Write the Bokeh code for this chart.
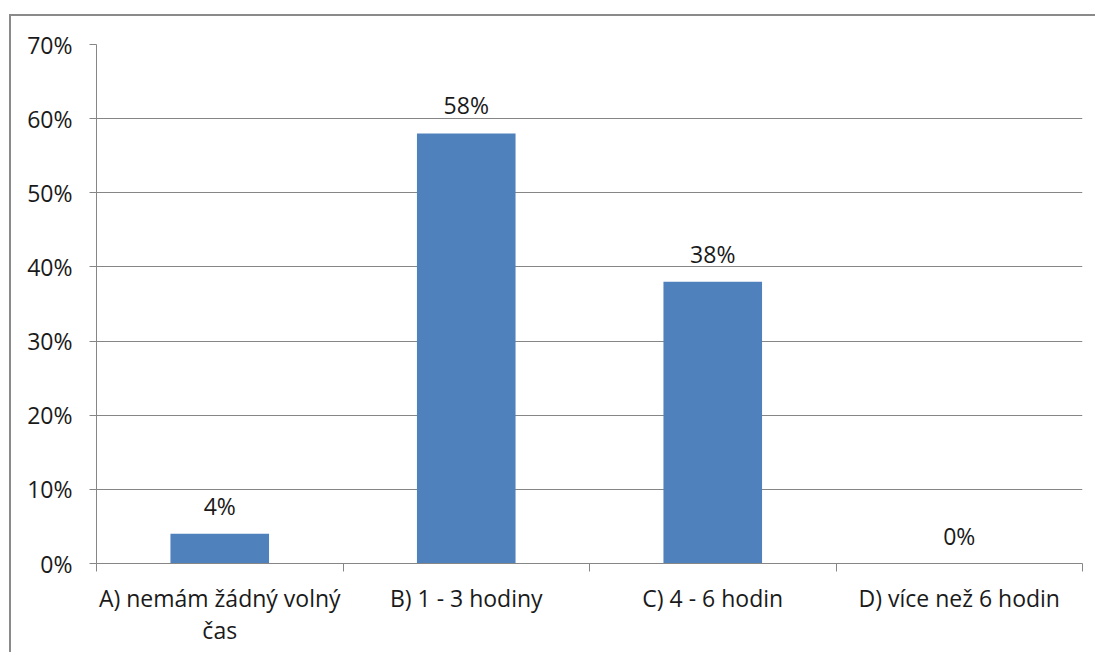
from bokeh.plotting import figure
from bokeh.models import ColumnDataSource, FixedTicker, NumeralTickFormatter, Range1d
from bokeh.core.properties import value
from bokeh.embed import file_html
from bokeh.resources import INLINE

categories = ["A) nemám žádný volný\nčas", "B) 1 - 3 hodiny", "C) 4 - 6 hodin", "D) více než 6 hodin"]
shares = [0.04, 0.58, 0.38, 0.0]
share_labels = ["4%", "58%", "38%", "0%"]
y_ticks = [0.0, 0.1, 0.2, 0.3, 0.4, 0.5, 0.6, 0.7]

FONT = "Open Sans"
FS = "23px"
GRID = "#868686"
TXT = "#1a1a1a"

xs = [i + 0.5 for i in range(len(categories))]
src = ColumnDataSource(dict(x=xs, top=shares, lab=share_labels))

p = figure(width=1086, height=638, output_backend="svg", toolbar_location=None,
           x_range=Range1d(0, len(categories)), y_range=Range1d(0, 0.7),
           min_border_left=85, min_border_right=15, min_border_top=28, min_border_bottom=91)
p.styles = {"margin-left": "9px", "margin-top": "14px",
            "border-left": "2px solid #8a8a8a", "border-top": "2px solid #8a8a8a"}
p.outline_line_color = None
p.background_fill_color = "white"
p.border_fill_color = "white"

p.vbar(x="x", top="top", width=0.4, source=src, fill_color="#4F81BD", line_color=None)
p.text(x="x", y="top", text="lab", source=src, text_align="center", text_baseline="alphabetic",
       y_offset=-28, text_font=value(FONT), text_font_size=FS, text_color=TXT)

# y axis
p.yaxis.ticker = FixedTicker(ticks=y_ticks)
p.yaxis.formatter = NumeralTickFormatter(format="0%")
p.yaxis.axis_line_color = GRID
p.yaxis.major_tick_line_color = GRID
p.yaxis.major_tick_out = 7
p.yaxis.major_tick_in = 0
p.yaxis.minor_tick_line_color = None
p.yaxis.major_label_text_font = FONT
p.yaxis.major_label_text_font_size = FS
p.yaxis.major_label_text_color = TXT
p.yaxis.major_label_standoff = 17

# x axis
p.xaxis.ticker = FixedTicker(ticks=xs, minor_ticks=list(range(len(categories) + 1)))
p.xaxis.major_label_overrides = {x: c for x, c in zip(xs, categories)}
p.xaxis.axis_line_color = GRID
p.xaxis.major_tick_line_color = None
p.xaxis.major_tick_out = 0
p.xaxis.major_tick_in = 0
p.xaxis.minor_tick_line_color = GRID
p.xaxis.minor_tick_out = 8
p.xaxis.minor_tick_in = 0
p.xaxis.major_label_text_font = FONT
p.xaxis.major_label_text_font_size = FS
p.xaxis.major_label_text_color = TXT
p.xaxis.major_label_text_line_height = 1.0
p.xaxis.major_label_standoff = 10

p.xgrid.grid_line_color = None
p.ygrid.grid_line_color = GRID
p.ygrid.ticker = FixedTicker(ticks=y_ticks)

open("out.html", "w").write(file_html(p, INLINE))
